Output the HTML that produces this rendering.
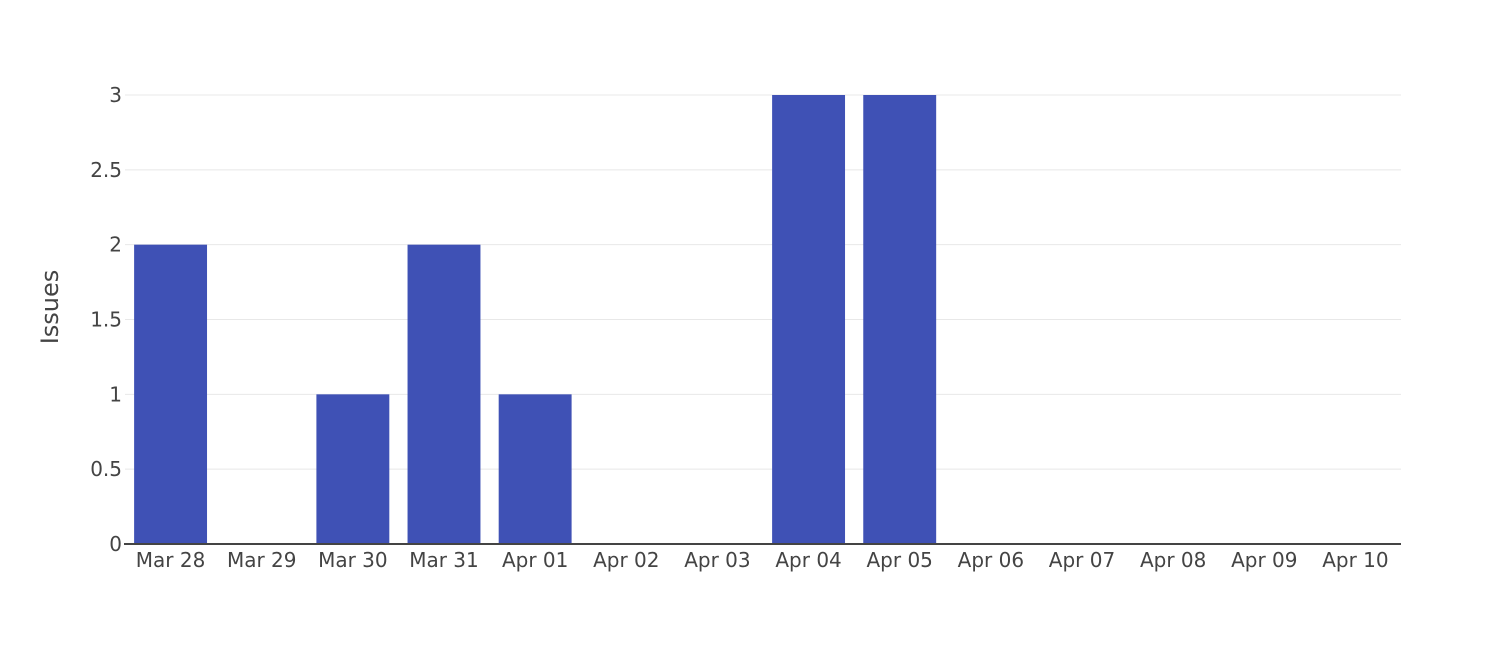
<!DOCTYPE html>
<html><head><meta charset="utf-8"><style>
body{margin:0;background:#fff;}
svg text{font-family:"DejaVu Sans","Liberation Sans",sans-serif;fill:#444;}
</style></head><body>
<svg id="chart" width="1505" height="648" xmlns="http://www.w3.org/2000/svg">
<g id="grid"></g>
<g id="bars"></g>
<g id="yticks"></g>
<g id="xticks"></g>
<line x1="124" y1="544" x2="1401" y2="544" stroke="#444" stroke-width="2"/>
<text x="58" y="307" font-size="24" text-anchor="middle" transform="rotate(-90 58 307)">Issues</text>
</svg>
<script>
const categories=["Mar 28","Mar 29","Mar 30","Mar 31","Apr 01","Apr 02","Apr 03","Apr 04","Apr 05","Apr 06","Apr 07","Apr 08","Apr 09","Apr 10"];
const issues=[2,0,1,2,1,0,0,3,3,0,0,0,0,0];
const yTicks=[0,0.5,1,1.5,2,2.5,3];
const yTickLabels=["0","0.5","1","1.5","2","2.5","3"];
const NS="http://www.w3.org/2000/svg";
const L=125,R=1401,T=95,B=544,yMax=3;
const band=(R-L)/categories.length;
function xC(i){return L+band*(i+0.5);}
function yS(v){return B-(v/yMax)*(B-T);}
function mk(t,a){const e=document.createElementNS(NS,t);for(const k in a)e.setAttribute(k,a[k]);return e;}
const grid=document.getElementById('grid'),bars=document.getElementById('bars'),yt=document.getElementById('yticks'),xt=document.getElementById('xticks');
yTicks.forEach((v,i)=>{
  if(v>0){const g=mk('line',{x1:L,x2:R,y1:yS(v),y2:yS(v),stroke:'#e8e8e8','stroke-width':1});
  
  
  grid.appendChild(g);}
  const t=mk('text',{x:L-3,y:yS(v)+7,'font-size':20,'text-anchor':'end'});
  
  
  t.textContent=yTickLabels[i];yt.appendChild(t);
});
categories.forEach((c,i)=>{
  const w=band*0.8,v=issues[i];
  if(v>0){const r=mk('rect',{x:xC(i)-w/2,y:yS(v),width:w,height:yS(0)-yS(v),fill:'#3f51b5'});
  
  
  bars.appendChild(r);}
  const t=mk('text',{x:xC(i),y:567,'font-size':20,'text-anchor':'middle'});
  
  
  t.textContent=c;xt.appendChild(t);
});
</script>
</body></html>
